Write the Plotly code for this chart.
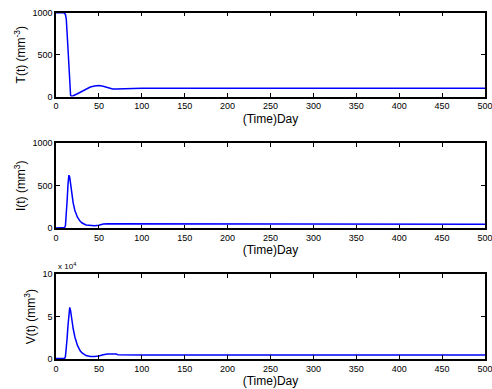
import plotly.graph_objects as go

# Time points (days) for each state variable
t_T = [0, 9, 11, 12, 13, 14, 15, 16, 17, 18, 20, 25, 30, 35, 40, 45, 50, 55, 60, 63, 66, 70, 78, 80, 90, 100, 500]
T_vals = [1000, 1000, 980, 920, 750, 520, 280, 80, 15, 8, 12, 35, 65, 95, 115, 128, 132, 125, 108, 97, 93, 93, 94, 100, 102, 101, 101]

t_I = [0, 9, 10, 11, 12, 13, 14, 15, 16, 17, 18, 20, 22, 25, 28, 30, 35, 40, 45, 50, 55, 60, 70, 75, 100, 500]
I_vals = [5, 5, 8, 30, 150, 330, 520, 625, 600, 520, 430, 300, 210, 130, 85, 65, 40, 32, 30, 35, 50, 55, 55, 50, 48, 48]

t_V = [0, 10, 11, 12, 13, 14, 15, 16, 17, 18, 20, 22, 25, 28, 30, 35, 40, 45, 50, 55, 60, 70, 72, 100, 500]
V_vals = [500, 500, 3000, 12000, 25000, 40000, 54000, 61000, 57000, 49000, 36000, 26000, 16000, 10000, 7500, 4000, 3000, 3000, 3500, 5000, 6000, 6000, 5000, 4800, 4800]

x_ticks = list(range(0, 501, 50))
W, H = 492, 389

fig = go.Figure()
series = [(t_T, T_vals), (t_I, I_vals), (t_V, V_vals)]
for i, (tx, vy) in enumerate(series, start=1):
    fig.add_trace(go.Scatter(x=tx, y=vy, mode="lines",
                             line=dict(color="#0000ff", width=1.5),
                             xaxis=f"x{i}", yaxis=f"y{i}", showlegend=False))

# panel boxes in pixels (top, bottom)
panels = [(12.7, 96.7), (143.3, 228.3), (274.3, 359.0)]
x_dom = [56 / W, 485 / W]
fam = "Liberation Sans, Arial, sans-serif"
tick_font = dict(family=fam, size=9, color="black")
title_font = dict(family=fam, size=12, color="black")

ylabels = ["T(t) (mm<sup>-3</sup>)", "I(t) (mm<sup>3</sup>)", "V(t) (mm<sup>3</sup>)"]
yranges = [[0, 1000], [0, 1000], [0, 100000]]
ytickvals = [[0, 500, 1000], [0, 500, 1000], [0, 50000, 100000]]
yticktext = [["0", "500", "1000"], ["0", "500", "1000"], ["0", "5", "10"]]

axis_common = dict(showline=True, linecolor="black", linewidth=1.5, mirror="ticks",
                   ticks="inside", ticklen=4, tickcolor="black", tickwidth=1,
                   showgrid=False, zeroline=False, tickfont=tick_font,
                   ticklabeloverflow="allow", automargin=False)

for i, (top, bot) in enumerate(panels, start=1):
    y_dom = [1 - bot / H, 1 - top / H]
    fig.layout[f"xaxis{i}"] = dict(domain=x_dom, range=[0, 500], tickvals=x_ticks,
                                   anchor=f"y{i}",
                                   title=dict(text="(Time)Day", standoff=4, font=title_font),
                                   **axis_common)
    fig.layout[f"yaxis{i}"] = dict(domain=y_dom, range=yranges[i - 1],
                                   tickvals=ytickvals[i - 1], ticktext=yticktext[i - 1],
                                   anchor=f"x{i}",
                                   title=dict(text=ylabels[i - 1], standoff=4, font=title_font),
                                   **axis_common)

fig.add_annotation(text="x 10<sup>4</sup>", xref="paper", yref="paper",
                   x=56 / W, y=1 - 273 / H, xanchor="left", yanchor="bottom",
                   showarrow=False, font=dict(family=fam, size=8, color="black"))

fig.update_layout(width=W, height=H, margin=dict(l=0, r=0, t=0, b=0),
                  plot_bgcolor="white", paper_bgcolor="white")

fig.write_html("out.html")
